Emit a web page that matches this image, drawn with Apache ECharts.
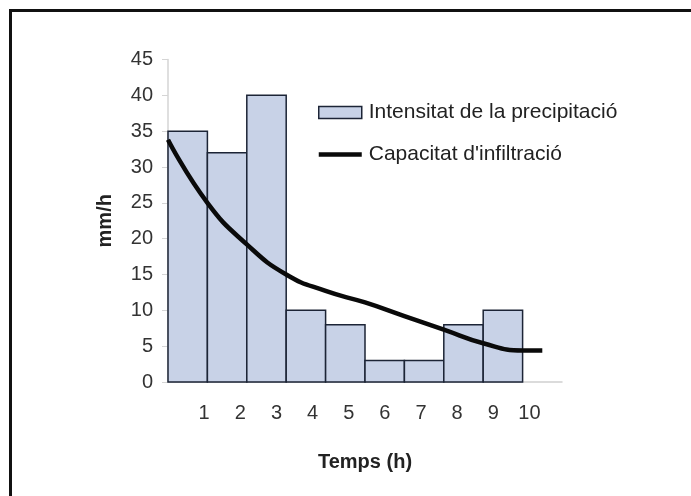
<!DOCTYPE html>
<html>
<head>
<meta charset="utf-8">
<script src="https://cdn.jsdelivr.net/npm/echarts@6/dist/echarts.min.js"></script>
<style>html,body{margin:0;padding:0;background:#fff;}#c{width:691px;height:496px;}</style>
</head>
<body>
<div id="c"></div>
<script>
// Data
const hours = [1, 2, 3, 4, 5, 6, 7, 8, 9];
const intensity = [35, 32, 40, 10, 8, 3, 3, 8, 10];
const capacityTime = [0, 1, 2, 3, 4, 5, 6, 7, 8, 9, 9.5];
const capacity = [33.8, 25, 19.2, 15.0, 12.7, 11.1, 9.2, 7.3, 5.4, 4.4, 4.4];
const xTickLabels = ['1', '2', '3', '4', '5', '6', '7', '8', '9', '10'];
const seriesNames = ['Intensitat de la precipitació', "Capacitat d'infiltració"];
const xTitle = 'Temps (h)';
const yTitle = 'mm/h';

const font = 'Liberation Sans';
const chart = echarts.init(document.getElementById('c'), null, {renderer: 'canvas'});
chart.setOption({
  backgroundColor: '#fff',
  animation: false,
  graphic: [{
    type: 'rect', silent: true,
    shape: {x: 10.5, y: 10.5, width: 720, height: 520},
    style: {fill: 'none', stroke: '#111', lineWidth: 3}
  }],
  grid: {left: 168, right: 129, top: 59.5, bottom: 114},
  legend: {
    orient: 'vertical', left: 313, top: 97,
    itemWidth: 43, itemHeight: 12, itemGap: 21,
    textStyle: {fontFamily: font, fontSize: 21, color: '#222', padding: [0, 0, 0, 2]},
    data: [
      {name: seriesNames[0], icon: 'rect', itemStyle: {color: '#c8d2e7', borderColor: '#1c2436', borderWidth: 1.5}},
      {name: seriesNames[1], icon: 'path://M0,0h43v4.5h-43z', itemStyle: {color: '#0a0a0a', borderWidth: 0}}
    ]
  },
  xAxis: [{
    type: 'value', min: 0, max: 10, position: 'bottom',
    axisLine: {show: true, lineStyle: {color: '#cfcfcf', width: 1.5}},
    axisTick: {show: false}, axisLabel: {show: false}, splitLine: {show: false},
    name: xTitle, nameLocation: 'middle', nameGap: 70,
    nameTextStyle: {fontFamily: font, fontSize: 20, fontWeight: 'bold', color: '#222'}
  }, {
    type: 'value', min: 0, max: 10.9, interval: 1, position: 'bottom',
    axisLine: {show: false}, axisTick: {show: false}, splitLine: {show: false},
    axisLabel: {
      show: true, margin: 21, showMinLabel: false, showMaxLabel: false,
      fontFamily: font, fontSize: 20, color: '#333',
      formatter: function (v) { const i = Math.round(v); return (Math.abs(v - i) < 1e-6 && i >= 1 && i <= xTickLabels.length) ? xTickLabels[i - 1] : ''; }
    }
  }],
  yAxis: {
    type: 'value', min: 0, max: 45, interval: 5,
    axisLine: {show: true, lineStyle: {color: '#d5d5d5', width: 1.5}},
    axisTick: {show: true, length: 6, lineStyle: {color: '#d5d5d5'}},
    splitLine: {show: false},
    axisLabel: {fontFamily: font, fontSize: 20, color: '#333', margin: 15},
    name: yTitle, nameLocation: 'middle', nameGap: 53, nameRotate: 90,
    nameTextStyle: {fontFamily: font, fontSize: 20, fontWeight: 'bold', color: '#222'}
  },
  series: [{
    name: seriesNames[0], type: 'custom', xAxisIndex: 0, z: 2,
    itemStyle: {color: '#c8d2e7', borderColor: '#1c2436', borderWidth: 1.5},
    encode: {x: 0, y: 1},
    data: hours.map((h, i) => [h, intensity[i]]),
    renderItem: function (params, api) {
      const t = api.value(0), v = api.value(1);
      const p0 = api.coord([t - 1, 0]);
      const p1 = api.coord([t, v]);
      return {
        type: 'rect',
        shape: {x: p0[0], y: p1[1], width: p1[0] - p0[0], height: p0[1] - p1[1]},
        style: {fill: '#c8d2e7', stroke: '#1c2436', lineWidth: 1.5}
      };
    }
  }, {
    name: seriesNames[1], type: 'line', xAxisIndex: 0, z: 5,
    smooth: 0.5, symbol: 'none',
    lineStyle: {color: '#0a0a0a', width: 4.5},
    itemStyle: {color: '#0a0a0a'},
    data: capacityTime.map((t, i) => [t, capacity[i]])
  }]
});
</script>
</body>
</html>
